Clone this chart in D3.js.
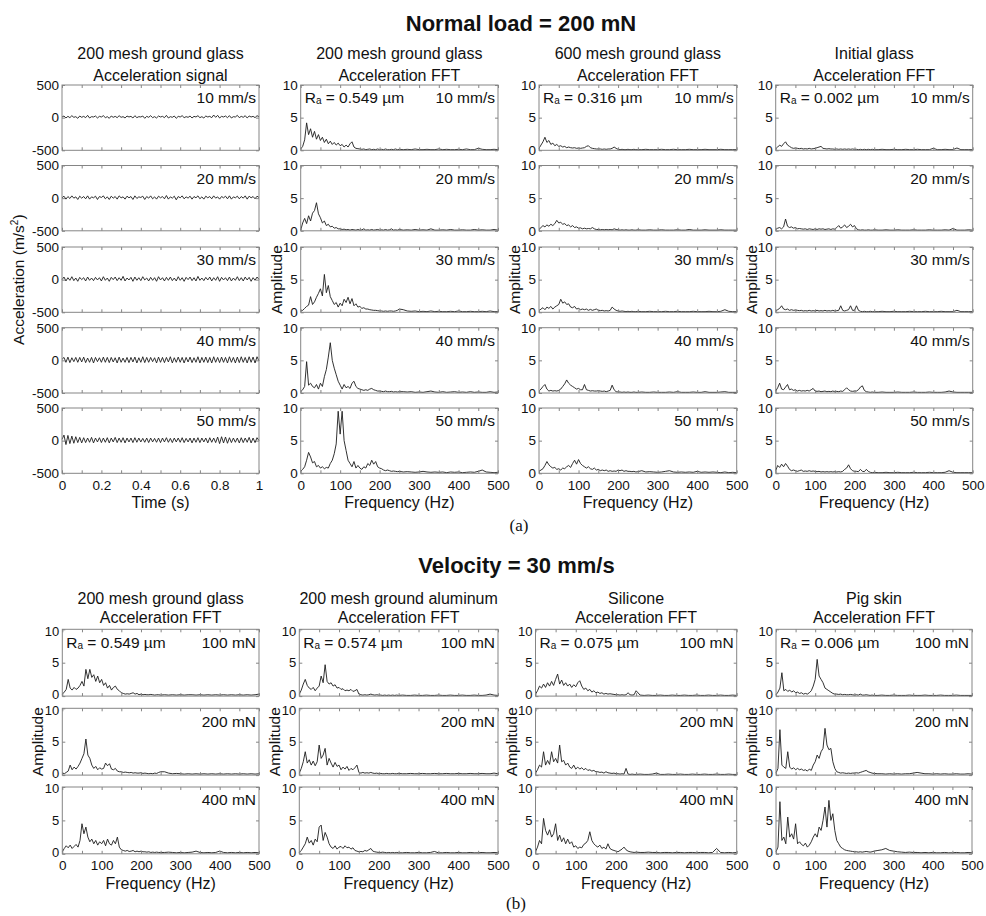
<!DOCTYPE html>
<html><head><meta charset="utf-8">
<script src="https://cdn.jsdelivr.net/npm/d3@7"></script>
<style>
body{margin:0;background:#fff}
text{font-family:"Liberation Sans",Arial,Helvetica,sans-serif;fill:#111}
</style></head>
<body><svg id="chart" width="986" height="916"></svg>
<script>
// ---------- labels ----------
const titleA = "Normal load = 200 mN";
const titleB = "Velocity = 30 mm/s";
const headersA = [["200 mesh ground glass","Acceleration signal"],["200 mesh ground glass","Acceleration FFT"],["600 mesh ground glass","Acceleration FFT"],["Initial glass","Acceleration FFT"]];
const headersB = [["200 mesh ground glass","Acceleration FFT"],["200 mesh ground aluminum","Acceleration FFT"],["Silicone","Acceleration FFT"],["Pig skin","Acceleration FFT"]];
const raA = [null,"0.549","0.316","0.002"];
const raB = ["0.549","0.574","0.075","0.006"];
const velocityLabels = ["10 mm/s","20 mm/s","30 mm/s","40 mm/s","50 mm/s"];
const loadLabels = ["100 mN","200 mN","400 mN"];
const timeTicks = [0,0.1,0.2,0.3,0.4,0.5,0.6,0.7,0.8,0.9,1];
const timeTickLabels = [0,0.2,0.4,0.6,0.8,1];
const accTicks = [-500,0,500];
const freqTicks = [0,50,100,150,200,250,300,350,400,450,500];
const freqTickLabels = [0,100,200,300,400,500];
const ampTicks = [0,5,10];

// sampling grids
const times = d3.range(0,101).map(i=>i/100);
const freqs = d3.range(0,251,5).concat(d3.range(260,501,10));

// ---------- (a) acceleration signals (m/s^2) ----------
const sig10 = [10,25,-5,20,0,30,5,15,-10,25, 5,20,0,35,-5,15,10,25,-5,20, 10,30,0,15,-10,25,5,20,0,30, 5,15,-5,25,10,20,-5,30,0,15, 10,25,-10,20,5,30,0,15,-5,25, 10,20,0,35,-5,15,5,25,-10,20, 10,30,0,15,5,25,-5,20,10,30, 0,15,-5,25,10,20,0,40,5,35, -5,20,10,25,0,30,-5,15,10,35, 0,20,5,30,-5,25,10,20,0,30, 15];
const sig20 = [5,30,-15,25,-5,35,0,20,-20,30, 0,25,-10,35,-15,20,5,30,-20,25, 10,35,-10,20,-20,30,0,25,-15,35, 5,20,-15,30,5,25,-20,35,-5,20, 10,30,-20,25,0,35,-10,20,-15,30, 5,25,-10,40,-15,20,0,30,-25,25, 5,35,-10,20,0,30,-15,25,5,35, -10,20,-15,30,5,25,-10,35,0,20, -15,25,5,30,-10,35,-15,20,5,30, -10,25,0,35,-15,30,5,25,-10,30, 10];
const sig30 = [0,40,-20,30,-10,45,-15,25,-25,35, 0,30,-20,40,-10,25,-15,35,-5,30, -20,45,-10,25,-25,35,0,40,-15,30, -10,50,-20,25,-5,35,-25,40,-10,30, -15,45,-5,25,-20,35,-10,30,-25,45, -5,30,-20,35,-10,40,-15,25,-20,45, -10,30,-25,35,0,40,-15,30,-20,50, -10,25,-15,35,-5,40,-20,30,-10,45, -25,35,-5,30,-15,40,-20,25,-10,45, -15,30,-20,40,-5,35,-25,30,-10,40, 5];
const sig40 = [15,45,-30,50,-35,40,-20,45,-30,45, -25,50,-35,35,-30,45,-40,45,-20,40, -30,50,-30,45,-35,45,-25,40,-40,50, -30,35,-30,45,-35,45,-25,50,-40,40, -30,55,-35,45,-30,45,-20,40,-40,50, -30,45,-35,45,-25,55,-40,40,-30,50, -30,45,-40,45,-25,50,-35,40,-30,55, -40,45,-30,50,-35,45,-40,55,-30,45, -35,50,-30,45,-40,55,-30,45,-40,50, -35,55,-30,45,-40,55,-30,50,-40,55, -10];
const sig50 = [20,85,-60,80,-45,70,-40,60,-30,50, -35,45,-30,40,-25,50,-35,40,-20,45, -30,40,-25,45,-35,40,-20,50,-30,40, -25,45,-35,40,-20,40,-30,45,-25,40, -20,35,-25,40,-30,40,-20,35,-25,40, -30,40,-20,45,-25,35,-30,40,-20,40, -25,45,-30,35,-20,40,-35,40,-25,45, -30,40,-20,40,-35,45,-25,40,-30,55, -45,60,-35,55,-40,45,-30,40,-25,40, -35,45,-30,40,-25,50,-35,40,-30,45, 0];

// ---------- (a) FFT: 200 mesh ground glass ----------
const g200_10 = [0.2,0.6,1.6,4.2,2.4,3.3,2.0,2.9,1.7,2.4,1.5, 2.0,1.2,1.7,1.0,1.4,0.9,1.2,0.8,1.1,0.7, 0.9,0.5,0.8,0.5,1.0,1.3,0.5,0.3,0.25,0.2, 0.15,0.2,0.1,0.15,0.2,0.1,0.15,0.1,0.2,0.1, 0.15,0.1,0.2,0.1,0.1,0.15,0.1,0.2,0.1,0.15, 0.1,0.15,0.1,0.2,0.1,0.1,0.15,0.1,0.1,0.2,0.1,0.15,0.1,0.1,0.15,0.1,0.2,0.1,0.1,0.3,0.15,0.1,0.1,0.15,0.1];
const g200_20 = [0.1,1.2,1.9,1.1,2.3,1.5,2.7,3.1,4.3,2.6,2.0, 1.2,1.5,0.8,1.0,0.6,0.7,0.4,0.5,0.3,0.3, 0.2,0.25,0.15,0.2,0.1,0.2,0.15,0.1,0.2,0.1, 0.15,0.3,0.1,0.15,0.1,0.2,0.1,0.15,0.2,0.1, 0.15,0.1,0.2,0.1,0.15,0.3,0.1,0.15,0.1,0.2, 0.1,0.15,0.1,0.2,0.1,0.15,0.1,0.3,0.1,0.1,0.15,0.1,0.2,0.1,0.1,0.15,0.1,0.1,0.2,0.1,0.15,0.1,0.1,0.2,0.1];
const g200_30 = [0.2,0.3,0.6,0.9,1.1,2.4,1.2,1.6,2.3,2.9,3.6, 2.5,5.8,3.0,4.1,2.4,1.8,1.2,1.5,0.8,1.4, 1.0,2.0,1.5,2.3,1.3,2.1,1.0,1.3,0.8,0.9, 0.6,0.7,0.5,0.5,0.4,0.35,0.3,0.3,0.25,0.2, 0.2,0.15,0.2,0.15,0.2,0.2,0.15,0.2,0.3,0.5, 0.4,0.2,0.15,0.2,0.1,0.15,0.1,0.2,0.1,0.15,0.1,0.1,0.15,0.1,0.2,0.1,0.1,0.15,0.1,0.1,0.15,0.1,0.2,0.1,0.1];
const g200_40 = [0.2,0.5,1.0,4.8,1.2,1.5,1.0,0.8,1.3,0.6,1.5, 1.0,2.5,3.6,5.5,7.7,5.0,3.8,2.8,1.8,1.2, 0.6,1.3,0.8,1.0,0.7,1.5,1.8,1.0,0.7,0.6, 0.5,0.4,0.5,0.4,0.6,0.7,0.5,0.4,0.3,0.3, 0.25,0.2,0.3,0.2,0.2,0.25,0.15,0.2,0.15,0.2, 0.2,0.15,0.2,0.1,0.15,0.1,0.2,0.3,0.15,0.1,0.2,0.1,0.15,0.2,0.1,0.15,0.1,0.2,0.1,0.15,0.1,0.1,0.2,0.1,0.15];
const g200_50 = [0.3,0.6,1.0,2.0,3.2,2.5,1.6,1.8,1.0,1.2,0.8, 1.0,0.7,0.9,0.8,1.5,2.0,3.0,4.5,9.5,6.0, 9.5,5.0,3.5,2.0,1.5,1.0,1.8,0.8,1.2,0.8, 0.6,1.0,0.8,1.5,1.2,2.0,1.4,1.8,1.0,0.8, 0.7,0.5,0.4,0.5,0.4,0.3,0.35,0.3,0.25,0.3, 0.2,0.25,0.2,0.15,0.2,0.3,0.2,0.15,0.2,0.15,0.2,0.1,0.2,0.15,0.2,0.1,0.15,0.2,0.15,0.3,0.5,0.2,0.15,0.1,0.15];

// ---------- (a) FFT: 600 mesh ground glass ----------
const g600_10 = [0.3,0.8,1.3,2.0,1.2,1.5,0.9,1.1,0.7,0.9,0.6, 0.7,0.5,0.6,0.4,0.5,0.4,0.35,0.4,0.3,0.35, 0.3,0.35,0.4,0.6,0.7,0.4,0.3,0.25,0.2,0.2, 0.2,0.15,0.2,0.15,0.2,0.2,0.3,0.5,0.3,0.15, 0.1,0.15,0.1,0.1,0.15,0.1,0.1,0.15,0.1,0.1, 0.1,0.15,0.1,0.1,0.1,0.15,0.1,0.1,0.15,0.1,0.1,0.1,0.15,0.1,0.1,0.1,0.15,0.1,0.1,0.1,0.15,0.1,0.1,0.1,0.1];
const g600_20 = [0.2,0.5,0.8,0.6,0.9,0.7,1.0,0.8,1.1,1.6,1.2, 1.3,1.0,1.1,0.8,0.9,0.6,0.8,0.5,0.6,0.4, 0.45,0.3,0.4,0.3,0.35,0.3,0.5,0.3,0.2,0.2, 0.15,0.2,0.15,0.2,0.15,0.2,0.15,0.3,0.2,0.15, 0.1,0.15,0.1,0.15,0.1,0.1,0.15,0.1,0.1,0.15, 0.1,0.1,0.15,0.1,0.1,0.15,0.1,0.1,0.1,0.15,0.1,0.1,0.2,0.1,0.1,0.1,0.15,0.1,0.1,0.1,0.15,0.1,0.1,0.1,0.1];
const g600_30 = [0.2,0.5,0.7,0.4,0.8,0.6,0.9,0.5,0.8,1.0,1.2, 2.0,1.4,1.6,1.2,1.3,0.8,0.7,0.9,0.5,0.6, 0.4,0.5,0.4,0.5,0.3,0.45,0.3,0.4,0.5,0.3, 0.25,0.3,0.2,0.25,0.2,0.3,0.8,0.5,0.3,0.2, 0.15,0.2,0.15,0.1,0.15,0.1,0.15,0.1,0.1,0.15, 0.1,0.1,0.15,0.1,0.1,0.1,0.15,0.1,0.1,0.15,0.1,0.1,0.1,0.15,0.1,0.1,0.1,0.15,0.1,0.1,0.15,0.4,0.15,0.1,0.1];
const g600_40 = [0.3,0.6,1.0,1.3,0.6,0.3,0.4,0.3,0.35,0.3,0.4, 0.6,1.0,1.4,2.0,1.5,1.2,1.0,0.8,0.6,0.7, 0.5,0.5,1.3,0.5,0.4,0.3,0.35,0.3,0.3,0.35, 0.3,0.25,0.3,0.2,0.3,0.4,1.2,0.5,0.2,0.15, 0.15,0.1,0.15,0.1,0.15,0.1,0.1,0.15,0.1,0.1, 0.15,0.1,0.1,0.15,0.1,0.1,0.1,0.15,0.1,0.2,0.1,0.1,0.1,0.15,0.1,0.1,0.2,0.1,0.1,0.1,0.15,0.2,0.1,0.1,0.1];
const g600_50 = [0.3,0.5,0.7,1.2,1.8,1.3,1.0,0.8,0.9,0.6,0.7, 0.5,0.8,0.7,1.0,1.2,0.9,1.5,2.0,1.4,2.1, 1.5,1.2,1.0,0.8,1.0,0.7,0.6,0.8,0.5,0.6, 0.4,0.5,0.4,0.5,0.3,0.4,0.3,0.35,0.3,0.5, 0.4,0.5,0.3,0.4,0.3,0.3,0.25,0.3,0.2,0.25, 0.4,0.2,0.25,0.2,0.15,0.2,0.3,0.4,0.2,0.15,0.2,0.15,0.2,0.15,0.3,0.15,0.2,0.15,0.2,0.15,0.1,0.2,0.1,0.15,0.1];

// ---------- (a) FFT: initial glass ----------
const init_10 = [0.2,0.5,0.8,0.6,1.0,1.3,0.8,0.6,0.4,0.3,0.35, 0.3,0.25,0.3,0.2,0.25,0.2,0.3,0.2,0.25,0.3, 0.4,0.5,0.6,0.3,0.25,0.2,0.25,0.2,0.2,0.15, 0.2,0.15,0.2,0.15,0.2,0.15,0.2,0.15,0.2,0.15, 0.15,0.1,0.15,0.1,0.15,0.1,0.15,0.1,0.15,0.1, 0.1,0.15,0.1,0.1,0.15,0.1,0.1,0.15,0.1,0.1,0.15,0.1,0.1,0.1,0.3,0.1,0.1,0.15,0.1,0.1,0.35,0.1,0.1,0.1,0.1];
const init_20 = [0.2,0.4,0.5,0.3,0.6,1.8,0.7,0.5,0.6,0.4,0.5, 0.3,0.35,0.3,0.25,0.3,0.2,0.3,0.25,0.2,0.3, 0.2,0.3,0.25,0.3,0.2,0.25,0.3,0.2,0.3,0.25, 0.5,0.8,0.4,0.6,0.9,0.5,0.7,1.0,0.6,0.8, 0.3,0.15,0.1,0.15,0.1,0.1,0.15,0.1,0.1,0.15, 0.1,0.1,0.15,0.1,0.1,0.15,0.1,0.1,0.1,0.15,0.1,0.1,0.1,0.15,0.1,0.1,0.1,0.15,0.1,0.35,0.1,0.1,0.1,0.15,0.1];
const init_30 = [0.2,0.4,0.6,1.0,0.5,0.4,0.5,0.3,0.4,0.3,0.35, 0.3,0.25,0.3,0.2,0.25,0.2,0.3,0.2,0.25,0.2, 0.3,0.2,0.25,0.2,0.3,0.2,0.25,0.2,0.3,0.2, 0.25,0.3,1.0,0.3,0.2,0.3,0.4,1.0,0.3,0.3, 1.0,0.3,0.15,0.1,0.15,0.1,0.1,0.15,0.1,0.1, 0.1,0.15,0.1,0.1,0.15,0.1,0.1,0.1,0.15,0.1,0.1,0.1,0.15,0.1,0.1,0.1,0.15,0.1,0.1,0.1,0.3,0.1,0.1,0.1,0.1];
const init_40 = [0.3,0.8,1.5,0.6,0.5,0.9,1.3,0.5,0.6,0.4,0.5, 0.3,0.4,0.3,0.35,0.3,0.4,0.3,0.5,0.7,0.3, 0.25,0.3,0.2,0.25,0.3,0.2,0.25,0.2,0.3,0.2, 0.25,0.2,0.3,0.25,0.5,0.8,0.5,0.3,0.25,0.3, 0.3,0.5,0.9,1.1,0.4,0.2,0.15,0.1,0.15,0.1, 0.1,0.15,0.1,0.1,0.1,0.15,0.1,0.1,0.1,0.15,0.1,0.1,0.1,0.15,0.1,0.1,0.1,0.15,0.3,0.15,0.1,0.1,0.1,0.1,0.1];
const init_50 = [0.4,1.2,0.9,1.4,1.0,1.5,1.1,0.6,0.4,0.5,0.4, 0.3,0.4,0.5,0.3,0.35,0.3,0.4,0.3,0.35,0.3, 0.25,0.3,0.2,0.25,0.2,0.25,0.2,0.25,0.2,0.25, 0.2,0.25,0.2,0.3,0.6,0.8,1.3,0.7,0.4,0.3, 0.3,0.25,0.6,0.3,0.25,0.6,0.3,0.15,0.1,0.15, 0.1,0.1,0.15,0.1,0.1,0.15,0.1,0.1,0.1,0.15,0.1,0.1,0.1,0.15,0.1,0.1,0.1,0.15,0.4,0.15,0.1,0.1,0.1,0.1,0.1];

// ---------- (b) FFT at 30 mm/s ----------
const bGlass_100 = [0.3,0.6,1.0,2.5,1.2,0.9,1.3,1.0,1.2,1.6,2.2, 1.5,4.0,2.6,4.0,2.8,3.2,2.2,3.0,2.0,2.5, 1.6,2.0,1.2,1.6,0.9,1.3,1.5,1.0,0.8,0.5, 0.4,0.3,0.35,0.3,0.4,0.5,0.3,0.4,0.2,0.3, 0.2,0.25,0.2,0.2,0.25,0.2,0.15,0.2,0.2,0.15, 0.2,0.15,0.2,0.15,0.2,0.15,0.2,0.2,0.15,0.2,0.15,0.2,0.15,0.2,0.15,0.2,0.15,0.2,0.15,0.2,0.15,0.2,0.15,0.2,0.3];
const bGlass_200 = [0.3,0.2,0.4,0.6,1.5,0.8,1.2,0.9,1.3,1.8,2.5, 3.2,5.4,3.0,2.5,1.5,1.0,1.3,0.8,1.1,0.9, 1.0,1.8,1.4,1.7,0.9,0.8,1.0,0.6,0.5,0.5, 0.4,0.45,0.4,0.35,0.4,0.3,0.35,0.3,0.3,0.35, 0.25,0.3,0.25,0.2,0.25,0.2,0.3,0.25,0.4,0.5, 0.5,0.3,0.2,0.25,0.2,0.15,0.2,0.15,0.2,0.15,0.2,0.15,0.2,0.15,0.2,0.15,0.2,0.15,0.2,0.15,0.2,0.15,0.2,0.15,0.2];
const bGlass_400 = [0.3,0.8,1.2,0.9,1.3,0.8,1.1,1.4,1.0,2.0,4.5, 3.0,4.0,2.5,1.8,2.2,1.5,2.0,1.3,1.8,1.5, 2.0,1.2,2.2,1.5,1.3,2.0,1.5,2.5,1.0,0.6, 0.5,0.4,0.5,0.35,0.4,0.5,0.3,0.4,0.3,0.4, 0.3,0.3,0.25,0.3,0.2,0.25,0.2,0.25,0.2,0.2, 0.2,0.25,0.2,0.15,0.2,0.15,0.2,0.25,0.4,0.2,0.15,0.2,0.15,0.2,0.4,0.2,0.15,0.2,0.15,0.2,0.15,0.2,0.15,0.2,0.15];
const bAl_100 = [0.3,0.9,1.8,2.5,1.6,1.2,1.0,1.3,0.8,1.2,1.5, 3.0,2.0,4.7,2.2,1.8,2.0,1.5,1.7,1.2,1.3, 1.0,1.1,0.8,0.9,0.8,1.0,0.7,0.8,1.0,0.3, 0.2,0.15,0.2,0.15,0.2,0.3,0.2,0.15,0.2,0.15, 0.15,0.1,0.15,0.1,0.15,0.1,0.15,0.1,0.15,0.1, 0.15,0.1,0.1,0.15,0.1,0.1,0.15,0.1,0.1,0.15,0.1,0.1,0.15,0.1,0.1,0.15,0.1,0.1,0.15,0.1,0.1,0.15,0.3,0.15,0.1];
const bAl_200 = [0.3,1.0,2.0,3.5,1.8,2.3,1.5,2.1,1.4,2.0,4.5, 2.5,3.0,4.0,1.5,2.5,1.8,1.2,1.9,1.3,1.5, 0.8,1.2,0.9,1.3,0.7,1.0,0.8,1.1,1.5,0.4, 0.3,0.4,0.3,0.35,0.3,0.4,0.3,0.25,0.3,0.2, 0.25,0.2,0.2,0.25,0.2,0.2,0.25,0.2,0.2,0.25, 0.2,0.2,0.25,0.2,0.2,0.25,0.2,0.2,0.25,0.2,0.2,0.25,0.2,0.2,0.25,0.2,0.2,0.25,0.2,0.2,0.25,0.2,0.2,0.3,0.2];
const bAl_400 = [0.2,0.5,1.0,1.5,2.5,1.6,2.0,1.3,2.2,1.8,4.0, 4.3,2.0,3.2,2.5,1.5,1.0,0.8,1.2,0.7,1.0, 1.1,0.8,1.2,0.9,1.0,0.7,0.9,0.5,0.4,0.3, 0.35,0.3,0.5,0.4,0.6,0.8,0.4,0.3,0.25,0.2, 0.2,0.25,0.2,0.15,0.2,0.15,0.2,0.15,0.2,0.15, 0.15,0.2,0.15,0.15,0.2,0.15,0.15,0.2,0.35,0.15,0.15,0.2,0.15,0.15,0.2,0.15,0.15,0.2,0.15,0.15,0.2,0.15,0.15,0.2,0.15];
const bSil_100 = [0.3,0.8,1.5,1.2,1.8,1.3,2.0,1.5,2.2,1.6,2.5, 3.3,1.8,2.4,1.6,2.0,1.5,1.8,1.3,1.7,1.4, 2.0,2.3,1.5,1.0,1.2,0.8,1.0,0.6,0.8,0.5, 0.6,0.4,0.5,0.3,0.4,0.3,0.35,0.3,0.25,0.2, 0.2,0.15,0.2,0.15,0.2,0.5,0.2,0.15,0.2,0.8, 0.15,0.1,0.15,0.1,0.1,0.15,0.1,0.1,0.15,0.1,0.1,0.15,0.1,0.1,0.15,0.1,0.1,0.15,0.1,0.1,0.15,0.1,0.1,0.15,0.1];
const bSil_200 = [0.3,0.8,1.5,1.2,3.5,1.5,2.2,1.6,3.5,2.0,2.5, 1.8,4.5,2.0,2.2,1.5,1.8,1.2,1.0,1.5,0.9, 1.2,0.9,1.1,0.8,1.0,0.7,0.8,0.6,0.7,0.5, 0.5,0.4,0.45,0.3,0.5,0.35,0.3,0.25,0.3,0.2, 0.2,0.15,0.2,0.15,1.0,0.15,0.1,0.15,0.1,0.1, 0.15,0.1,0.1,0.15,0.3,0.1,0.1,0.15,0.1,0.1,0.15,0.1,0.1,0.15,0.1,0.1,0.15,0.1,0.1,0.15,0.1,0.1,0.15,0.1,0.1];
const bSil_400 = [0.3,1.0,2.0,1.5,5.3,3.5,2.8,3.6,2.5,3.0,4.5, 2.0,2.8,1.8,2.4,1.5,2.2,1.5,1.8,1.0,1.2, 0.8,1.0,0.9,1.4,1.6,2.0,3.3,2.0,1.5,1.2, 1.0,1.3,0.8,1.0,0.7,1.5,0.8,0.6,0.5,0.4, 0.3,0.5,0.7,1.0,0.6,0.4,0.3,0.25,0.2,0.25, 0.2,0.2,0.25,0.2,0.2,0.15,0.2,0.2,0.15,0.2,0.2,0.15,0.2,0.2,0.15,0.2,0.2,0.15,0.2,0.8,0.2,0.15,0.2,0.15,0.2];
const bPig_100 = [0.2,0.6,1.2,3.5,0.8,1.0,0.7,0.9,0.6,0.8,0.5, 0.6,0.4,0.5,0.3,0.4,0.3,0.5,0.8,1.5,2.5, 5.5,3.0,2.5,2.0,1.2,1.0,0.8,0.6,0.4,0.3, 0.3,0.25,0.3,0.2,0.25,0.2,0.2,0.25,0.2,0.15, 0.2,0.15,0.3,0.15,0.15,0.2,0.15,0.1,0.15,0.1, 0.1,0.15,0.1,0.1,0.15,0.1,0.1,0.1,0.15,0.1,0.1,0.1,0.15,0.1,0.1,0.1,0.15,0.1,0.1,0.1,0.15,0.1,0.1,0.1,0.1];
const bPig_200 = [0.3,1.0,6.8,1.5,1.2,1.0,3.5,1.2,0.9,1.1,0.8, 1.0,0.8,0.9,0.7,0.8,0.6,0.9,0.7,1.5,2.0, 3.0,2.5,3.5,4.0,7.0,4.5,3.8,4.0,2.0,1.0, 0.5,0.4,0.3,0.35,0.3,0.25,0.3,0.25,0.3,0.3, 0.35,0.3,0.4,0.5,0.6,0.7,0.5,0.4,0.3,0.25, 0.2,0.2,0.15,0.2,0.15,0.2,0.15,0.2,0.2,0.3,0.4,0.3,0.2,0.2,0.15,0.2,0.15,0.2,0.15,0.15,0.2,0.15,0.15,0.2,0.15];
const bPig_400 = [0.3,1.0,7.8,2.0,2.5,1.5,5.5,2.5,3.0,2.2,4.5, 1.5,1.8,1.4,1.2,1.6,1.0,1.3,1.8,2.5,3.0, 2.5,4.0,3.5,5.0,7.0,4.0,8.0,5.0,6.0,3.5, 2.0,1.5,1.0,0.8,0.6,0.5,0.45,0.4,0.35,0.3, 0.3,0.25,0.3,0.25,0.3,0.35,0.3,0.25,0.3,0.4, 0.5,0.6,0.8,0.5,0.4,0.3,0.25,0.2,0.25,0.2,0.2,0.15,0.2,0.15,0.2,0.15,0.15,0.2,0.15,0.15,0.2,0.15,0.15,0.2,0.15];

const seriesA = [[sig10,sig20,sig30,sig40,sig50],[g200_10,g200_20,g200_30,g200_40,g200_50],[g600_10,g600_20,g600_30,g600_40,g600_50],[init_10,init_20,init_30,init_40,init_50]];
const seriesB = [[bGlass_100,bGlass_200,bGlass_400],[bAl_100,bAl_200,bAl_400],[bSil_100,bSil_200,bSil_400],[bPig_100,bPig_200,bPig_400]];

// ---------- layout ----------
const colsA = [[62,259],[300.7,498],[539,736.7],[775.7,972.7]];
const topsA = [85,165.5,247,327.7,408];
const hA = 65.3;
const colsB = [[62.3,259],[299.3,498],[535.5,736.7],[776,972]];
const topsB = [629.3,708.3,787];
const hB = 66.8;

const svg = d3.select("#chart");
const BOX = "#858585";
const TICKFS = "13.5px";

function styleAxis(sel){
  sel.select(".domain").remove();
  sel.selectAll("line").attr("stroke",BOX);
  sel.selectAll("text").style("font-size",TICKFS).attr("fill","#111")
     .style("font-family",'"Liberation Sans",Arial,sans-serif');
}

function panel(o){
  const x = d3.scaleLinear().domain(o.xDomain).range([o.x0,o.x1]);
  const y = d3.scaleLinear().domain(o.yDomain).range([o.y1,o.y0]);
  const g = svg.append("g");
  const n = Math.min(o.xs.length,o.ys.length);
  const pts = d3.range(n).map(i=>[o.xs[i],o.ys[i]]);
  g.append("path").datum(pts)
    .attr("d",d3.line().x(d=>x(d[0])).y(d=>y(d[1])))
    .attr("fill","none").attr("stroke","#1c1c1c").attr("stroke-width",0.9)
    .attr("stroke-linejoin","round");
  g.append("rect").attr("x",o.x0).attr("y",o.y0).attr("width",o.x1-o.x0).attr("height",o.y1-o.y0)
    .attr("fill","none").attr("stroke",BOX).attr("stroke-width",1);
  const fmt = d=>String(d);
  g.append("g").attr("transform",`translate(0,${o.y1})`)
    .call(d3.axisBottom(x).tickValues(o.xTicks).tickSize(-3).tickFormat("")).call(styleAxis);
  g.append("g").attr("transform",`translate(0,${o.y0})`)
    .call(d3.axisTop(x).tickValues(o.xTicks).tickSize(-3).tickFormat("")).call(styleAxis);
  const ya = g.append("g").attr("transform",`translate(${o.x0},0)`)
    .call(d3.axisLeft(y).tickValues(o.yTicks).tickSize(-3).tickPadding(3).tickFormat(fmt)).call(styleAxis);
  if(o.tight){
    // rows in part (b) sit close together: nudge the end labels apart a little
    ya.selectAll("text").style("font-size","13px")
      .attr("y", d => d===o.yDomain[1] ? 1.7 : (d===o.yDomain[0] ? -1.7 : 0));
  }
  g.append("g").attr("transform",`translate(${o.x1},0)`)
    .call(d3.axisRight(y).tickValues(o.yTicks).tickSize(-3).tickFormat("")).call(styleAxis);
  if(o.xLabels){
    g.append("g").attr("transform",`translate(0,${o.y1})`)
      .call(d3.axisBottom(x).tickValues(o.xLabels).tickSize(0).tickPadding(7).tickFormat(fmt)).call(styleAxis);
  }
  g.append("text").attr("x",o.x1-3).attr("y",o.y0+18.3).attr("text-anchor","end")
    .style("font-size","15.5px").text(o.label);
  if(o.ra){
    const t = g.append("text").attr("x",o.x0+4).attr("y",o.y0+18.3).style("font-size","15.5px");
    t.append("tspan").text("R");
    t.append("tspan").style("font-size","10px").attr("dy",1).text("a");
    t.append("tspan").attr("dy",-1).text(" = "+o.ra+" \u00b5m");
  }
}

function header(cx, y1, y2, lines){
  svg.append("text").attr("x",cx).attr("y",y1).attr("text-anchor","middle").style("font-size","16px").text(lines[0]);
  svg.append("text").attr("x",cx).attr("y",y2).attr("text-anchor","middle").style("font-size","16px").text(lines[1]);
}
function vlabel(x, y, txt){
  return svg.append("text").attr("transform",`translate(${x},${y}) rotate(-90)`).attr("text-anchor","middle")
    .style("font-size","15.5px").text(txt);
}

// ---------- part (a) ----------
svg.append("text").attr("x",521).attr("y",31).attr("text-anchor","middle")
  .style("font-size","22px").style("font-weight","bold").text(titleA);
colsA.forEach((c,ci)=>{
  header((c[0]+c[1])/2, 58.5, 80.5, headersA[ci]);
  topsA.forEach((t,ri)=>{
    const isTime = ci===0;
    panel({x0:c[0],x1:c[1],y0:t,y1:t+hA,
      xDomain:isTime?[0,1]:[0,500], yDomain:isTime?[-500,500]:[0,10],
      xTicks:isTime?timeTicks:freqTicks, yTicks:isTime?accTicks:ampTicks,
      xLabels: ri===topsA.length-1 ? (isTime?timeTickLabels:freqTickLabels) : null,
      xs:isTime?times:freqs, ys:seriesA[ci][ri],
      label:velocityLabels[ri], ra: ri===0 ? raA[ci] : null});
  });
  const cx=(c[0]+c[1])/2;
  svg.append("text").attr("x",cx).attr("y",507.5).attr("text-anchor","middle").style("font-size","16px")
    .text(ci===0?"Time (s)":"Frequency (Hz)");
  const midY = topsA[2]+hA/2;
  if(ci===0){
    const t = vlabel(24, midY, "Acceleration (m/s");
    t.append("tspan").style("font-size","10px").attr("dy",-6).text("2");
    t.append("tspan").attr("dy",6).text(")");
  } else {
    vlabel(c[0]-19, midY, "Amplitude");
  }
});
svg.append("text").attr("x",519).attr("y",531).attr("text-anchor","middle")
  .style("font-family",'"Liberation Serif","Times New Roman",serif').style("font-size","17px").text("(a)");

// ---------- part (b) ----------
svg.append("text").attr("x",516.5).attr("y",573).attr("text-anchor","middle")
  .style("font-size","22px").style("font-weight","bold").text(titleB);
colsB.forEach((c,ci)=>{
  header((c[0]+c[1])/2, 603.5, 622.5, headersB[ci]);
  topsB.forEach((t,ri)=>{
    panel({x0:c[0],x1:c[1],y0:t,y1:t+hB,
      xDomain:[0,500], yDomain:[0,10], xTicks:freqTicks, yTicks:ampTicks,
      xLabels: ri===topsB.length-1 ? freqTickLabels : null, tight:true,
      xs:freqs, ys:seriesB[ci][ri], label:loadLabels[ri], ra: ri===0 ? raB[ci] : null});
  });
  const cx=(c[0]+c[1])/2;
  svg.append("text").attr("x",cx).attr("y",888.5).attr("text-anchor","middle").style("font-size","16px").text("Frequency (Hz)");
  vlabel(c[0]-19, topsB[1]+hB/2, "Amplitude");
});
svg.append("text").attr("x",516).attr("y",909).attr("text-anchor","middle")
  .style("font-family",'"Liberation Serif","Times New Roman",serif').style("font-size","17px").text("(b)");
</script></body></html>
